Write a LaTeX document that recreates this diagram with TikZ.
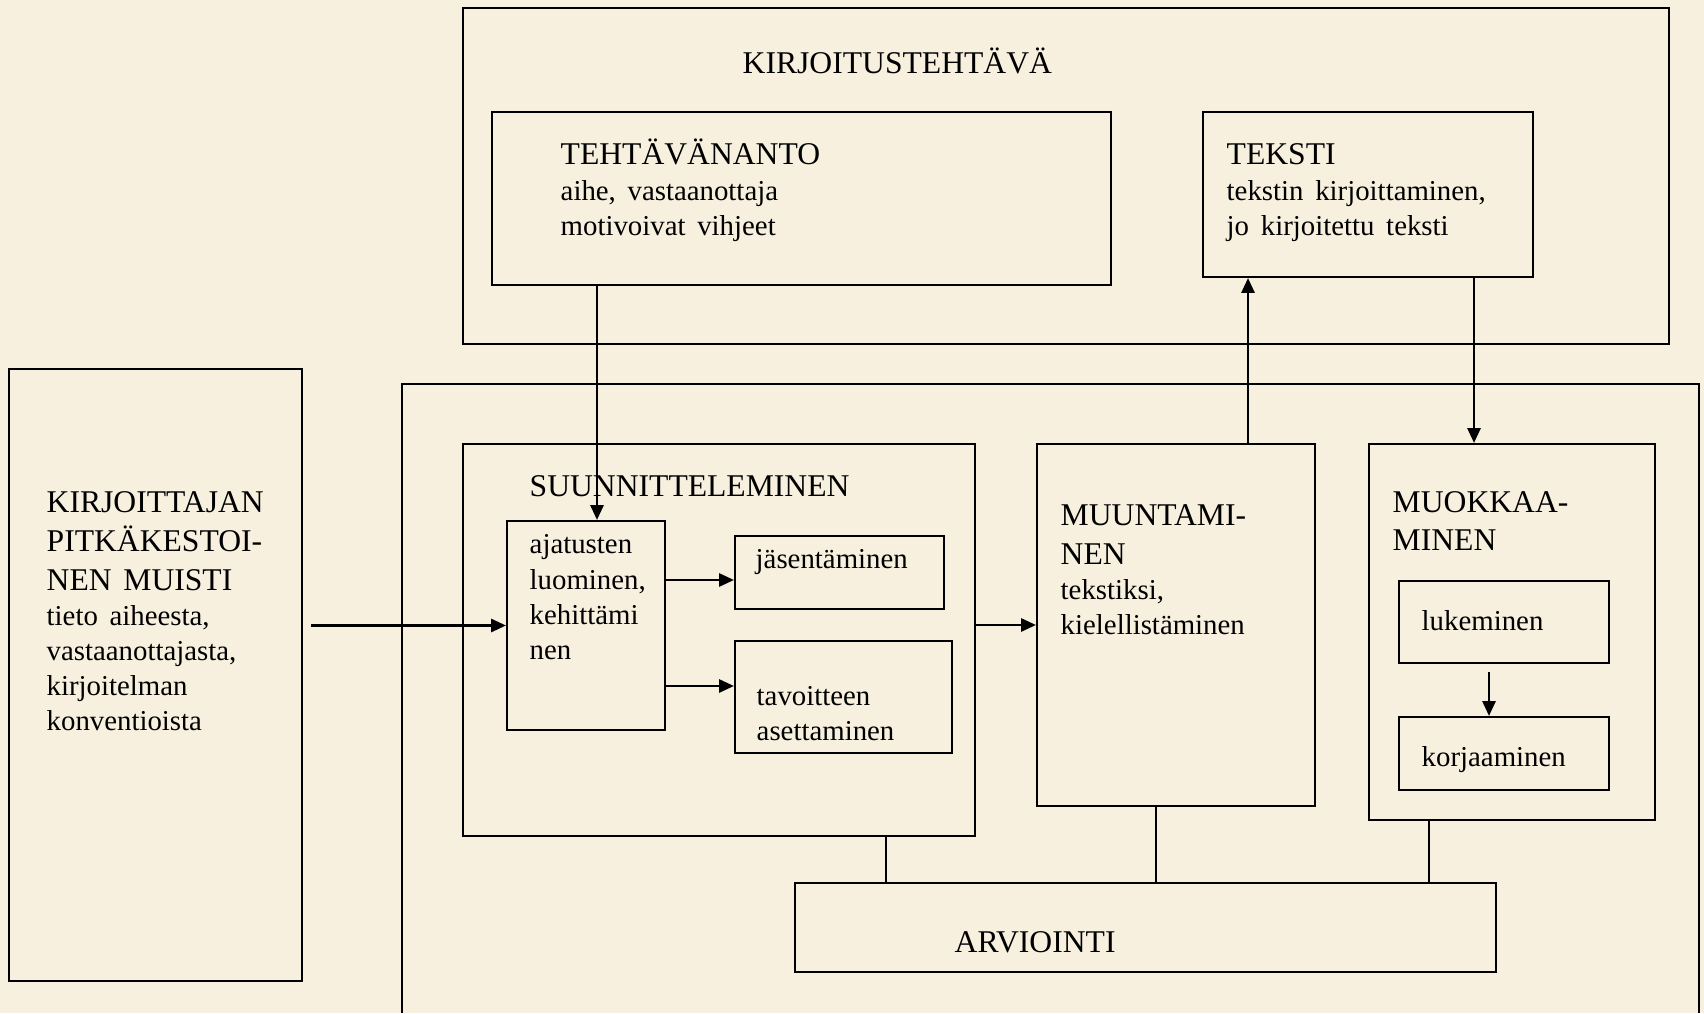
\documentclass[tikz,border=0pt]{standalone}
\usepackage{fontspec}
\setmainfont{Liberation Serif}
\usetikzlibrary{arrows.meta}
\definecolor{paper}{HTML}{F7F0DF}
\newcommand{\titlefont}{\fontsize{9}{11}\selectfont}
\newcommand{\bodyfont}{\fontsize{8.2}{10}\selectfont}
\setlength{\parindent}{0pt}

\begin{document}
\begin{tikzpicture}

% Page

\useasboundingbox (0,0) rectangle (17.04,10.13);
\fill[paper] (0,0) rectangle (17.04,10.13);


%%% Styles

\tikzstyle{box}=[rectangle, draw, line width=0.6pt, inner sep=0pt]
\tikzstyle{txt}=[anchor=base west, inner sep=0pt, align=left, text width=4cm]
\tikzstyle{arr}=[-{Triangle[length=4.2pt,width=3.7pt]}, line width=0.7pt]
\tikzstyle{link}=[line width=0.35pt]


%%% Writing task (top)

\node (task) [box, minimum width=12.06cm, minimum height=3.36cm] at (10.66,8.37) {};
\node (task-t) [txt] at (7.42,9.39) {\titlefont KIRJOITUSTEHTÄVÄ\par};

\node (brief) [box, minimum width=6.19cm, minimum height=1.73cm] at (8.015,8.145) {};
\node (brief-t) [txt] at (5.60,8.48) {\titlefont TEHTÄVÄNANTO\par
  \bodyfont aihe, vastaanottaja\\motivoivat vihjeet\par};

\node (text) [box, minimum width=3.30cm, minimum height=1.65cm] at (13.68,8.185) {};
\node (text-t) [txt] at (12.26,8.48) {\titlefont TEKSTI\par
  \bodyfont tekstin kirjoittaminen,\\jo kirjoitettu teksti\par};


%%% Long-term memory

\node (memory) [box, minimum width=2.93cm, minimum height=6.12cm] at (1.555,3.38) {};
\node (memory-t) [txt] at (0.46,5.00) {\titlefont KIRJOITTAJAN\\PITKÄKESTOI-\\NEN MUISTI\par
  \bodyfont tieto aiheesta,\\vastaanottajasta,\\kirjoitelman\\konventioista\par};


%%% Writing process frame (open at the bottom)

\draw[line width=0.6pt] (4.02,0) |- (16.99,6.29) -- (16.99,0);


% Planning

\node (plan) [box, minimum width=5.12cm, minimum height=3.92cm] at (7.19,3.73) {};
\node (plan-t) [txt] at (5.29,5.16) {\titlefont SUUNNITTELEMINEN\par};

\node (ideas) [box, minimum width=1.58cm, minimum height=2.09cm] at (5.86,3.875) {};
\node (ideas-t) [txt] at (5.29,4.59) {\bodyfont ajatusten\\luominen,\\kehittämi\\nen\par};

\node (org) [box, minimum width=2.09cm, minimum height=0.73cm] at (8.395,4.405) {};
\node (org-t) [txt] at (7.55,4.44) {\bodyfont jäsentäminen\par};

\node (goal) [box, minimum width=2.17cm, minimum height=1.12cm] at (8.435,3.16) {};
\node (goal-t) [txt] at (7.56,3.08) {\bodyfont tavoitteen\\asettaminen\par};


% Translating

\node (transl) [box, minimum width=2.78cm, minimum height=3.62cm] at (11.76,3.88) {};
\node (transl-t) [txt] at (10.60,4.87) {\titlefont MUUNTAMI-\\NEN\par
  \bodyfont tekstiksi,\\kielellistäminen\par};


% Reviewing

\node (review) [box, minimum width=2.86cm, minimum height=3.76cm] at (15.12,3.81) {};
\node (review-t) [txt] at (13.92,5.01) {\titlefont MUOKKAA-\\MINEN\par};

\node (read) [box, minimum width=2.10cm, minimum height=0.82cm] at (15.04,3.91) {};
\node (read-t) [txt] at (14.21,3.83) {\bodyfont lukeminen\par};

\node (edit) [box, minimum width=2.10cm, minimum height=0.73cm] at (15.04,2.595) {};
\node (edit-t) [txt] at (14.21,2.47) {\bodyfont korjaaminen\par};


% Evaluation

\node (eval) [box, minimum width=7.01cm, minimum height=0.89cm] at (11.455,0.855) {};
\node (eval-t) [txt] at (9.54,0.61) {\titlefont ARVIOINTI\par};


%%% Connector positions

\coordinate (c1) at (5.97,0);
\coordinate (c2) at (12.48,0);
\coordinate (c3) at (14.74,0);
\coordinate (c4) at (14.89,0);
\coordinate (c5) at (0,4.33);
\coordinate (c6) at (0,3.27);
\coordinate (c7) at (8.86,0);
\coordinate (c8) at (11.56,0);
\coordinate (c9) at (14.29,0);


% Arrows

\draw[arr] (brief.south -| c1) -- (ideas.north -| c1);
\draw[arr, shorten <=0.08cm] (memory.east |- ideas.west) -- (ideas.west);
\draw[arr] (ideas.east |- c5) -- (org.west |- c5);
\draw[arr] (ideas.east |- c6) -- (goal.west |- c6);
\draw[arr] (plan.east |- transl.west) -- (transl.west);
\draw[arr] (transl.north -| c2) -- (text.south -| c2);
\draw[arr] (text.south -| c3) -- (review.north -| c3);
\draw[arr, shorten <=0.08cm] (read.south -| c4) -- (edit.north -| c4);


% Links to evaluation

\draw[link] (plan.south -| c7) -- (eval.north -| c7);
\draw[link] (transl.south -| c8) -- (eval.north -| c8);
\draw[link] (review.south -| c9) -- (eval.north -| c9);

\end{tikzpicture}
\end{document}
